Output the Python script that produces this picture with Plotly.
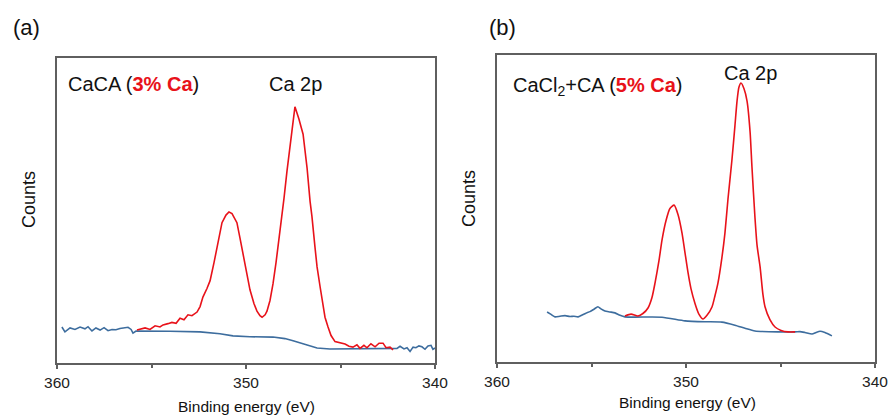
import plotly.graph_objects as go

# ---------------- data (binding energy in eV, counts in arbitrary units) ----------------
a_red_e = [355.77, 355.34, 355.08, 354.81, 354.55, 354.39, 354.13, 353.92, 353.70, 353.49,
           353.28, 353.07, 352.86, 352.59, 352.43, 352.28, 352.06, 351.90, 351.69, 351.53,
           351.38, 351.27, 351.06, 350.90, 350.74, 350.58, 350.48, 350.32, 350.16, 350.00,
           349.79, 349.58, 349.42, 349.26, 349.15, 348.99, 348.89, 348.73, 348.57, 348.41,
           348.20, 347.99, 347.83, 347.67, 347.57, 347.41, 347.20, 346.98, 346.88, 346.77,
           346.61, 346.51, 346.35, 346.24, 346.08, 345.98, 345.82, 345.66, 345.50, 345.29,
           345.03, 344.76, 344.55, 344.34, 344.13, 343.97, 343.76, 343.60, 343.39, 343.17,
           342.96, 342.75, 342.59, 342.38, 342.22]
a_red_c = [10.8, 11.5, 11.0, 12.2, 11.8, 12.5, 12.9, 13.3, 13.0, 14.7,
           14.2, 15.8, 15.5, 16.7, 18.5, 21.6, 24.5, 27.0, 33.0, 38.0,
           43.0, 46.0, 48.5, 49.5, 49.0, 47.0, 46.0, 41.0, 36.0, 30.0,
           24.0, 19.5, 17.0, 15.5, 15.0, 15.8, 17.0, 20.5, 26.0, 33.0,
           42.6, 54.0, 63.0, 72.0, 76.0, 84.0, 80.0, 75.0, 70.0, 64.0,
           53.0, 48.0, 38.0, 31.5, 25.0, 20.6, 15.0, 11.8, 9.0, 7.0,
           6.6, 6.2, 5.5, 5.2, 6.0, 4.8, 5.8, 5.0, 6.3, 5.3,
           6.5, 6.5, 5.0, 5.2, 4.3]

a_blue_e = [359.74, 359.58, 359.31, 359.05, 358.78, 358.52, 358.36, 358.15, 357.94, 357.72,
            357.51, 357.30, 357.09, 356.88, 356.67, 356.46, 356.24, 356.08, 355.98, 355.82,
            355.77, 354.02, 352.43, 351.38, 350.69, 349.79, 348.57, 347.94, 347.51, 347.14,
            346.72, 346.24, 345.56, 342.22,
            342.01, 341.85, 341.64, 341.48, 341.32, 341.16, 341.01, 340.85, 340.69, 340.53,
            340.37, 340.21, 340.11, 340.00]
a_blue_c = [11.8, 10.2, 11.5, 11.0, 11.8, 11.2, 11.9, 10.5, 11.5, 10.8,
            11.6, 10.6, 11.0, 10.9, 11.3, 11.5, 11.7, 11.0, 9.8, 10.5,
            10.5, 10.4, 10.2, 9.6, 8.9, 8.6, 8.5, 8.0, 7.3, 6.6,
            5.6, 4.9, 4.6, 4.6,
            4.8, 5.5, 4.6, 5.0, 3.8, 5.2, 5.0, 5.6, 5.3, 4.5,
            5.6, 5.8, 4.5, 4.9]

b_red_e = [353.23, 352.91, 352.54, 352.28, 352.01, 351.80, 351.64, 351.43, 351.27, 351.06,
           350.85, 350.63, 350.42, 350.21, 350.05, 349.89, 349.74, 349.52, 349.31, 349.10,
           348.89, 348.62, 348.47, 348.31, 348.10, 347.94, 347.78, 347.57, 347.41, 347.30,
           347.20, 347.09, 346.93, 346.77, 346.61, 346.51, 346.35, 346.24, 346.08, 345.93,
           345.82, 345.56, 345.29, 344.97, 344.60, 344.23]
b_red_c = [15.0, 15.6, 15.0, 15.8, 17.6, 21.0, 25.7, 33.0, 39.7, 46.0,
           50.0, 51.1, 48.0, 42.0, 35.5, 29.0, 24.0, 19.0, 15.5, 14.0,
           15.2, 18.0, 21.5, 25.7, 34.0, 42.0, 53.0, 65.8, 77.0, 85.0,
           89.5, 90.9, 89.0, 85.0, 75.0, 63.5, 47.0, 38.0, 31.0, 22.0,
           18.0, 13.8, 11.4, 10.3, 9.8, 9.8]

b_blue_e = [357.35, 357.14, 356.93, 356.67, 356.40, 356.14, 355.93, 355.71, 355.50, 355.29,
            355.08, 354.87, 354.66, 354.50, 354.29, 354.02, 353.76, 353.49, 353.23, 351.27,
            350.05, 349.00, 348.10, 347.41, 346.88, 346.35, 345.13, 344.23, 343.97, 343.70,
            343.33, 343.12, 342.91, 342.65, 342.28]
b_blue_c = [16.3, 15.5, 14.7, 14.9, 15.1, 14.8, 14.9, 14.7, 15.3, 15.9,
            16.4, 17.2, 18.0, 17.3, 16.6, 16.3, 16.0, 15.2, 14.7, 14.6,
            13.4, 13.1, 13.0, 12.0, 11.0, 10.1, 9.8, 9.8, 9.9, 9.6,
            9.1, 9.6, 10.0, 9.6, 8.5]

x_ticks = [360, 350, 340]
x_labels = ["360", "350", "340"]

RED = "#e8121a"
BLUE = "#3d6d9e"
FRAME = "#5f5f5f"
FONT = "Liberation Sans, Arial, sans-serif"

W, H = 890, 417


def px(x):
    return x / W


def py(y):
    return 1 - y / H


fig = go.Figure()
fig.add_trace(go.Scatter(x=a_blue_e, y=a_blue_c, mode="lines", line=dict(color=BLUE, width=1.6),
                         xaxis="x", yaxis="y", showlegend=False))
fig.add_trace(go.Scatter(x=a_red_e, y=a_red_c, mode="lines", line=dict(color=RED, width=1.6),
                         xaxis="x", yaxis="y", showlegend=False))
fig.add_trace(go.Scatter(x=b_blue_e, y=b_blue_c, mode="lines",
                         line=dict(color=BLUE, width=1.6, shape="spline", smoothing=0.6),
                         xaxis="x2", yaxis="y2", showlegend=False))
fig.add_trace(go.Scatter(x=b_red_e, y=b_red_c, mode="lines",
                         line=dict(color=RED, width=1.6, shape="spline", smoothing=0.6),
                         xaxis="x2", yaxis="y2", showlegend=False))

xcommon = dict(range=[360, 340], tickmode="array", tickvals=x_ticks, ticktext=x_labels,
               ticks="outside", ticklen=4, tickwidth=1.5, tickcolor=FRAME,
               minor=dict(tickmode="array", tickvals=[355, 345], ticks="outside", ticklen=3,
                          tickwidth=1.5, tickcolor=FRAME),
               showline=True, mirror=True, linecolor=FRAME, linewidth=1.8,
               showgrid=False, zeroline=False, automargin=False,
               tickfont=dict(family=FONT, size=15.5, color="#222222"))
ycommon = dict(range=[0, 100], showticklabels=False, ticks="", showline=True, mirror=True,
               linecolor=FRAME, linewidth=1.8, showgrid=False, zeroline=False,
               automargin=False)

fig.update_layout(
    width=W, height=H, autosize=False,
    margin=dict(l=0, r=0, t=0, b=0, pad=0),
    paper_bgcolor="white", plot_bgcolor="white",
    xaxis=dict(domain=[px(57), px(435)], anchor="y", **xcommon),
    yaxis=dict(domain=[py(363), py(58)], anchor="x", **ycommon),
    xaxis2=dict(domain=[px(497), px(875)], anchor="y2", **xcommon),
    yaxis2=dict(domain=[py(362), py(55)], anchor="x2", **ycommon),
    font=dict(family=FONT, color="#111111"),
)

ann = []


def add(text, x, y, size, xanchor="center", yanchor="middle", angle=0):
    ann.append(dict(text=text, x=px(x), y=py(y), xref="paper", yref="paper",
                    xanchor=xanchor, yanchor=yanchor, showarrow=False, textangle=angle,
                    font=dict(family=FONT, size=size, color="#111111")))


add("(a)", 11, 27, 22, xanchor="left")
add("(b)", 487, 27, 22, xanchor="left")
add("CaCA (<span style='color:" + RED + "'><b>3% Ca</b></span>)", 66, 84, 20, xanchor="left")
add("Ca 2p", 295, 84, 20)
add("CaCl<sub>2</sub>+CA (<span style='color:" + RED + "'><b>5% Ca</b></span>)", 511, 86, 20,
    xanchor="left")
add("Ca 2p", 750, 73, 20)
add("Counts", 29, 200, 18, angle=-90)
add("Counts", 469, 199, 18, angle=-90)
add("Binding energy (eV)", 246, 406, 15.5)
add("Binding energy (eV)", 687, 402, 15.5)

fig.update_layout(annotations=ann)

fig.write_html("out.html")
